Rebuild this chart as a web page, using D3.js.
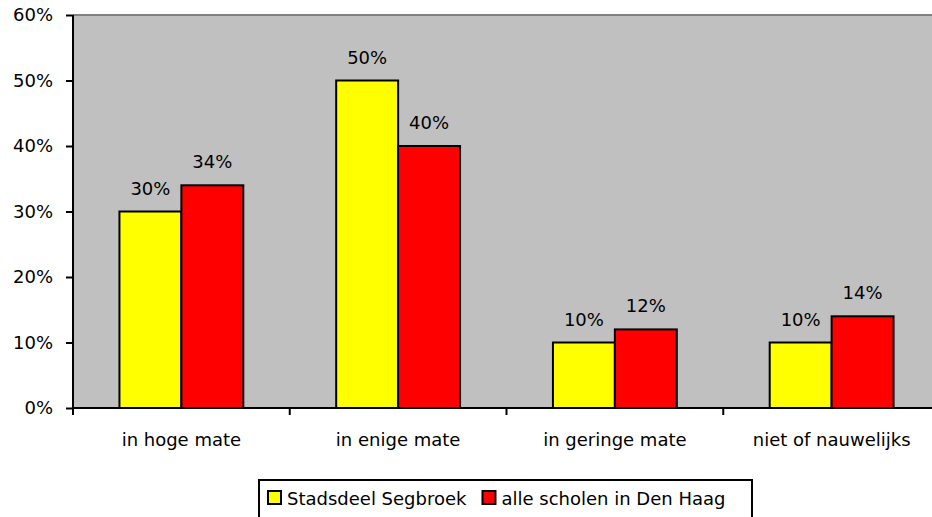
<!DOCTYPE html>
<html>
<head>
<meta charset="utf-8">
<script src="https://cdn.jsdelivr.net/npm/d3@7"></script>
<style>
  body { margin: 0; background: #fff; }
  text { font-family: "DejaVu Sans", Verdana, sans-serif; fill: #000; }
</style>
</head>
<body>
<svg id="chart" width="932" height="517"></svg>
<script>
// chart data
const categories = ['in hoge mate', 'in enige mate', 'in geringe mate', 'niet of nauwelijks']
const seriesNames = ['Stadsdeel Segbroek', 'alle scholen in Den Haag']
const segbroek = [30, 50, 10, 10]
const denHaag = [34, 40, 12, 14]
const yTicks = [0, 10, 20, 30, 40, 50, 60]
const colors = ['#ffff00', '#ff0000']

const svg = d3.select('#chart')
const plotLeft = 73, plotRight = 940, plotTop = 15, plotBottom = 408
const fontSize = 18

const x0 = d3.scaleBand()
  .domain(categories)
  .range([plotLeft, plotRight])
  .paddingInner(3 / 7)
  .paddingOuter(3 / 14)
const x1 = d3.scaleBand()
  .domain(seriesNames)
  .range([0, x0.bandwidth()])
const y = d3.scaleLinear().domain([0, 60]).range([plotBottom, plotTop])

// plot background
svg.append('rect')
  .attr('x', plotLeft).attr('y', plotTop)
  .attr('width', plotRight - plotLeft).attr('height', plotBottom - plotTop)
  .attr('fill', '#c0c0c0')
svg.append('line')
  .attr('x1', plotLeft).attr('x2', plotRight)
  .attr('y1', plotTop).attr('y2', plotTop)
  .attr('stroke', '#808080').attr('stroke-width', 2)

// bars
const rows = categories.map((c, i) => ({cat: c, values: [segbroek[i], denHaag[i]]}))
const groups = svg.selectAll('g.cat').data(rows).join('g')
  .attr('class', 'cat')
  .attr('transform', (d) => `translate(${x0(d.cat)},0)`)

groups.selectAll('rect').data((d) => d.values.map((v, i) => ({name: seriesNames[i], v, i})))
  .join('rect')
  .attr('x', (d) => x1(d.name))
  .attr('y', (d) => y(d.v))
  .attr('width', x1.bandwidth())
  .attr('height', (d) => plotBottom - y(d.v))
  .attr('fill', (d) => colors[d.i])
  .attr('stroke', '#000')
  .attr('stroke-width', 2)

groups.selectAll('text.lbl').data((d) => d.values.map((v, i) => ({name: seriesNames[i], v})))
  .join('text')
  .attr('class', 'lbl')
  .attr('x', (d) => x1(d.name) + x1.bandwidth() / 2)
  .attr('y', (d) => y(d.v) - 17)
  .attr('text-anchor', 'middle')
  .style('font-size', fontSize + 'px')
  .text((d) => d.v + '%')

// y axis
const yAxis = d3.axisLeft(y)
  .tickValues(yTicks)
  .tickSize(7)
  .tickPadding(13)
  .tickFormat((d) => d + '%')
svg.append('g')
  .attr('transform', `translate(${plotLeft},0)`)
  .call(yAxis)
  .call((g) => g.select('.domain').attr('stroke-width', 2).attr('d', `M0,${plotTop}V${plotBottom + 7}`))
  .call((g) => g.selectAll('.tick line').attr('stroke-width', 2))
  .call((g) => g.selectAll('.tick text')
    .style('font-size', fontSize + 'px')
    .style('font-family', '"DejaVu Sans", Verdana, sans-serif'))

// x axis
const tickPos = d3.range(categories.length + 1).map((i) => plotLeft + i * x0.step())
svg.append('line')
  .attr('x1', plotLeft).attr('x2', plotRight)
  .attr('y1', plotBottom).attr('y2', plotBottom)
  .attr('stroke', '#000').attr('stroke-width', 2)
svg.selectAll('line.xt').data(tickPos).join('line')
  .attr('class', 'xt')
  .attr('x1', (d) => d).attr('x2', (d) => d)
  .attr('y1', plotBottom).attr('y2', plotBottom + 7)
  .attr('stroke', '#000').attr('stroke-width', 2)
svg.selectAll('text.xl').data(categories).join('text')
  .attr('class', 'xl')
  .attr('x', (d) => x0(d) + x0.bandwidth() / 2)
  .attr('y', 446)
  .attr('text-anchor', 'middle')
  .style('font-size', fontSize + 'px')
  .text((d) => d)

// legend
const legend = svg.append('g')
legend.append('rect')
  .attr('x', 259).attr('y', 480)
  .attr('width', 493).attr('height', 60)
  .attr('fill', '#fff').attr('stroke', '#000').attr('stroke-width', 2)
let lx = 268
seriesNames.forEach((name, i) => {
  legend.append('rect')
    .attr('x', lx).attr('y', 491)
    .attr('width', 13).attr('height', 13)
    .attr('fill', colors[i]).attr('stroke', '#000').attr('stroke-width', 2)
  const t = legend.append('text')
    .attr('x', lx + 19).attr('y', 505)
    .style('font-size', fontSize + 'px')
    .text(name)
  lx += 19 + t.node().getComputedTextLength() + 16
})
</script>
</body>
</html>
